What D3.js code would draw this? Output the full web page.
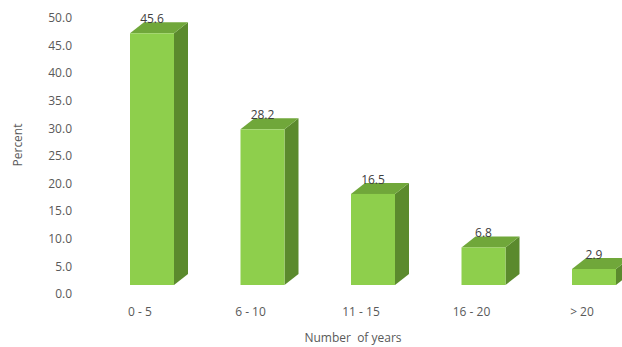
<!DOCTYPE html>
<html><head><meta charset="utf-8">
<script src="https://cdn.jsdelivr.net/npm/d3@7"></script>
<style>body{margin:0;background:#fff}svg{display:block}text{font-family:"Open Sans",sans-serif}</style>
</head><body><svg id="c" width="622" height="347"></svg>
<script>
const categories = ["0 - 5", "6 - 10", "11 - 15", "16 - 20", "> 20"];
const values = [45.6, 28.2, 16.5, 6.8, 2.9];
const yTicks = [0, 5, 10, 15, 20, 25, 30, 35, 40, 45, 50];

const svg = d3.select("#c");
const x = d3.scaleBand().domain(categories).range([84.75, 637.25]);
const y = d3.scaleLinear().domain([0, 50]).range([294, 18]);
const dx = 14, dy = 11, off = 9, fw = 44;

// y tick labels
svg.append("g").selectAll("text").data(yTicks).join("text")
  .attr("x", 72).attr("y", d => y(d)).attr("dy", "0.35em")
  .attr("text-anchor", "end").attr("font-size", 12).attr("fill", "#595959")
  .text(d => d3.format(".1f")(d));

// bars
const g = svg.append("g").selectAll("g").data(values.map((v, i) => ({v, c: categories[i]}))).join("g");
g.each(function(d) {
  const s = d3.select(this);
  const cx = x(d.c) + x.bandwidth() / 2;
  const x0 = cx - 10, x1 = x0 + fw;
  const yb = y(0) - off, yt = y(d.v) - off;
  // side
  s.append("path").attr("d", `M${x1},${yt}L${x1+dx},${yt-dy}L${x1+dx},${yb-dy}L${x1},${yb}Z`).attr("fill", "#5b8a2d");
  // top
  s.append("path").attr("d", `M${x0},${yt}L${x0+dx},${yt-dy}L${x1+dx},${yt-dy}L${x1},${yt}Z`).attr("fill", "#70a73a");
  // front
  s.append("rect").attr("x", x0).attr("y", yt).attr("width", fw).attr("height", yb - yt).attr("fill", "#8ecf4c");
  // label
  s.append("text").attr("x", x0 + fw/2).attr("y", yt - dy + 1).attr("text-anchor", "middle")
    .attr("font-size", 12).attr("fill", "#404040").text(d3.format(".1f")(d.v));
});

// category labels
svg.append("g").selectAll("text").data(categories).join("text")
  .attr("x", d => x(d) + x.bandwidth()/2).attr("y", 312).attr("dy", "0.35em")
  .attr("text-anchor", "middle").attr("font-size", 12).attr("fill", "#595959").text(d => d);

// axis titles
svg.append("text").attr("transform", "translate(22,145) rotate(-90)").attr("text-anchor", "middle")
  .attr("font-size", 12).attr("fill", "#595959").text("Percent");
svg.append("text").attr("x", 353).attr("y", 338).attr("dy", "0.35em").attr("text-anchor", "middle")
  .attr("font-size", 12).attr("fill", "#595959").style("white-space", "pre").text("Number  of years");
</script></body></html>
